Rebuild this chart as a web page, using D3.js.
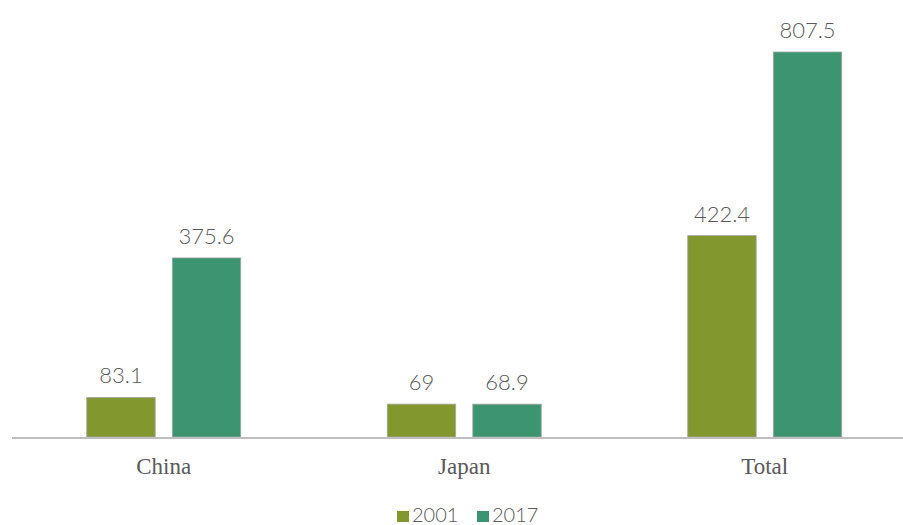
<!DOCTYPE html>
<html>
<head>
<meta charset="utf-8">
<script src="https://cdn.jsdelivr.net/npm/d3@7"></script>
<style>
  body { margin: 0; background: #fff; }
  text { fill: #595959; }
  .num { font-family: Lato, "Open Sans", sans-serif; font-weight: 300; }
  .cat-label { font-family: "Liberation Serif", "DejaVu Serif", serif; }
</style>
</head>
<body>
<div id="chart"></div>
<script>
// chart data
const categories = ["China", "Japan", "Total"];
const seriesNames = ["2001", "2017"];
const values2001 = [83.1, 69, 422.4];
const values2017 = [375.6, 68.9, 807.5];
const colors = ["#82982e", "#3c9470"];

const width = 903, height = 525;
const baseY = 437;

const svg = d3.select("#chart").append("svg")
    .attr("width", width)
    .attr("height", height);

const x0 = d3.scaleBand()
    .domain(categories)
    .range([13.5, 915]);

const x1 = d3.scaleBand()
    .domain(seriesNames)
    .range([-77, 77])
    .paddingInner(0.2);

const y = d3.scaleLinear()
    .domain([0, 807.5])
    .range([baseY, 52]);

const rows = categories.map((c, i) => ({
    cat: c,
    vals: [values2001[i], values2017[i]]
}));

const group = svg.selectAll("g.cat")
    .data(rows)
  .enter().append("g")
    .attr("class", "cat")
    .attr("transform", d => "translate(" + (x0(d.cat) + x0.bandwidth() / 2) + ",0)");

group.selectAll("rect")
    .data(d => d.vals.map((v, j) => ({ s: seriesNames[j], v: v, j: j })))
  .enter().append("rect")
    .attr("x", d => x1(d.s))
    .attr("y", d => y(d.v))
    .attr("width", x1.bandwidth())
    .attr("height", d => baseY - y(d.v))
    .attr("fill", d => colors[d.j])
    .attr("stroke", "#a6a6a6")
    .attr("stroke-width", 0.8);

group.selectAll("text.val")
    .data(d => d.vals.map((v, j) => ({ s: seriesNames[j], v: v })))
  .enter().append("text")
    .attr("class", "val num")
    .attr("x", d => x1(d.s) + x1.bandwidth() / 2)
    .attr("y", d => y(d.v) - 14)
    .attr("text-anchor", "middle")
    .attr("font-size", 22)
    .text(d => d.v);

// baseline axis
const xAxis = d3.axisBottom(x0).tickSize(0).tickPadding(21);
const axisG = svg.append("g")
    .attr("transform", "translate(0," + baseY + ")")
    .call(xAxis);
axisG.select(".domain").remove();
axisG.selectAll("text")
    .attr("class", "cat-label")
    .attr("font-size", 23)
    .attr("fill", "#595959");
svg.append("line")
    .attr("x1", 12).attr("x2", width)
    .attr("y1", baseY + 1).attr("y2", baseY + 1)
    .attr("stroke", "#bfbfbf")
    .attr("stroke-width", 2);

// legend
const legend = svg.append("g").attr("transform", "translate(397,511)");
const item = legend.selectAll("g")
    .data(seriesNames)
  .enter().append("g")
    .attr("transform", (d, i) => "translate(" + (i * 80) + ",0)");
item.append("rect")
    .attr("width", 12).attr("height", 11)
    .attr("y", 0)
    .attr("fill", (d, i) => colors[i]);
item.append("text")
    .attr("class", "num")
    .attr("x", 15)
    .attr("y", 11)
    .attr("font-size", 20)
    .text(d => d);
</script>
</body>
</html>
